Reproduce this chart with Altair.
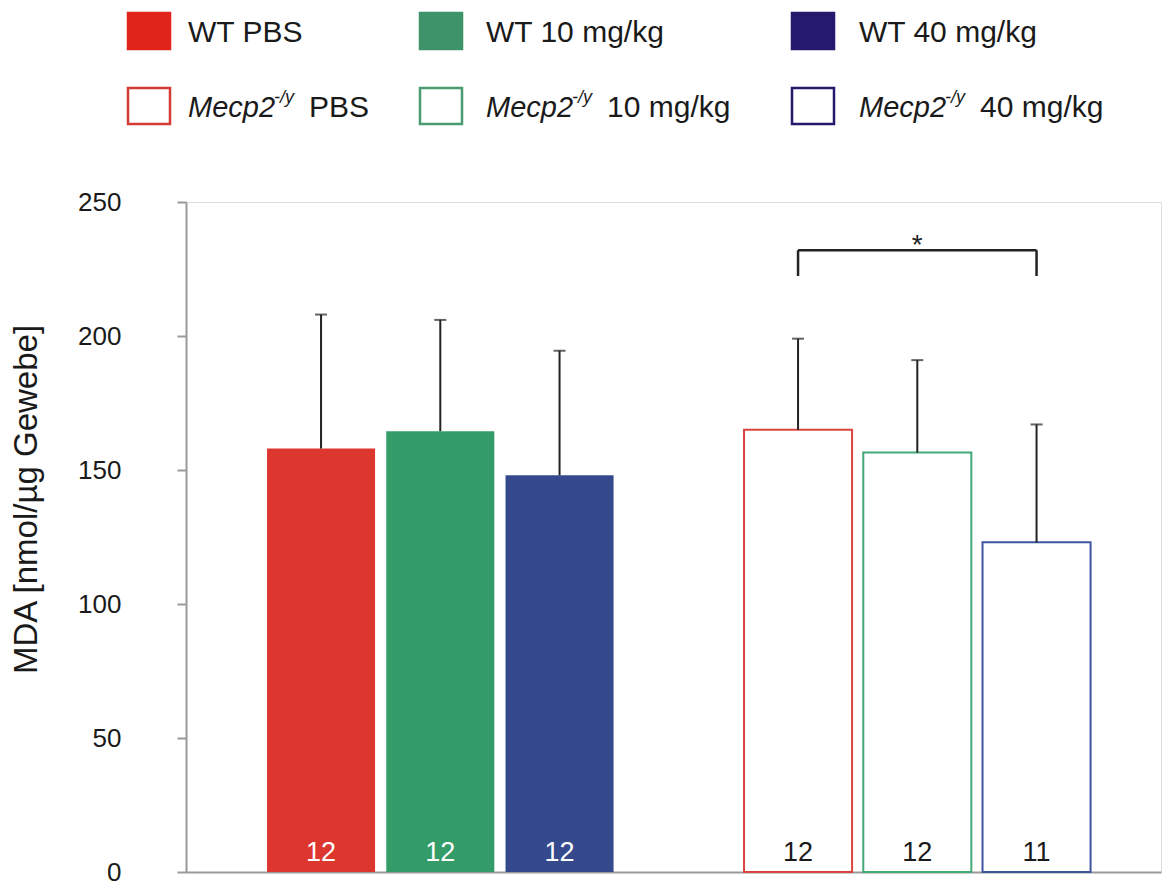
import altair as alt
import pandas as pd

# ---- data ----
groups = ["WT PBS", "WT 10 mg/kg", "WT 40 mg/kg",
          "Mecp2 PBS", "Mecp2 10 mg/kg", "Mecp2 40 mg/kg"]
means = [158, 164.5, 148, 165, 156.5, 123]
sds = [50, 41.5, 46.5, 34, 34.5, 44]
counts = [12, 12, 12, 12, 12, 11]
y_ticks = [0, 50, 100, 150, 200, 250]

# styles
fills = ["#dc362e", "#339c68", "#344a8c", "#ffffff", "#ffffff", "#ffffff"]
strokes = ["#dc362e", "#339c68", "#344a8c", "#d9453e", "#45a877", "#3c56a0"]
strokew = [0, 0, 0, 2, 2, 2]
count_colors = ["#ffffff", "#ffffff", "#ffffff", "#1a1a1a", "#1a1a1a", "#1a1a1a"]

# significance bracket
sig_left, sig_right, sig_mid = "Mecp2 PBS", "Mecp2 40 mg/kg", "Mecp2 10 mg/kg"
sig_top, sig_leg_bottom = 232, 222.4
sig_label_y = 230.6

# legend
leg_labels_wt = ["WT PBS", "WT 10 mg/kg", "WT 40 mg/kg"]
leg_labels_mut = ["PBS", "10 mg/kg", "40 mg/kg"]
leg_fill_wt = ["#e0241c", "#3f936a", "#24196c"]
leg_stroke_mut = ["#d23c35", "#4a9a72", "#24196c"]

domain = ["WT PBS", "WT 10 mg/kg", "WT 40 mg/kg", "gap",
          "Mecp2 PBS", "Mecp2 10 mg/kg", "Mecp2 40 mg/kg"]

df = pd.DataFrame({
    "group": groups, "mean": means, "sd": sds, "n": [str(c) for c in counts],
    "fill": fills, "stroke": strokes, "sw": strokew, "tc": count_colors,
})
df["upper"] = df["mean"] + df["sd"]

FONT = "Liberation Sans"
W, H = 975, 670

xs = alt.Scale(domain=domain, paddingInner=0.094, paddingOuter=0.635, align=0.535)
ys = alt.Scale(domain=[0, 250], nice=False)

x_enc = alt.X("group:N", scale=xs, sort=domain,
              axis=alt.Axis(labels=False, ticks=False, title=None,
                            domainColor="#9a9a9a", domainWidth=2))
y_axis = alt.Axis(values=y_ticks, title="MDA [nmol/µg Gewebe]", grid=False,
                  domainColor="#9a9a9a", domainWidth=2, tickColor="#9a9a9a",
                  tickWidth=2, tickSize=9, labelFontSize=26, labelPadding=56,
                  labelColor="#1a1a1a", labelFont=FONT, titleFont=FONT,
                  titleFontSize=33, titleFontWeight="normal", titleColor="#1a1a1a",
                  titleX=-143, titleY=297)

base = alt.Chart(df)

bars = base.mark_bar().encode(
    x=x_enc,
    y=alt.Y("mean:Q", scale=ys, axis=y_axis),
    fill=alt.Fill("fill:N", scale=None),
    stroke=alt.Stroke("stroke:N", scale=None),
    strokeWidth=alt.StrokeWidth("sw:Q", scale=None),
)

err = base.mark_rule(color="#222222", strokeWidth=2).encode(
    x=alt.X("group:N", scale=xs, sort=domain),
    y=alt.Y("mean:Q", scale=ys),
    y2="upper:Q",
)
caps = base.mark_tick(color="#222222", thickness=2, size=12).encode(
    x=alt.X("group:N", scale=xs, sort=domain),
    y=alt.Y("upper:Q", scale=ys),
)

nlab = base.mark_text(fontSize=27, font=FONT, baseline="alphabetic").encode(
    x=alt.X("group:N", scale=xs, sort=domain),
    y=alt.YValue(H - 11),
    text="n:N",
    color=alt.Color("tc:N", scale=None),
)

sig_df = pd.DataFrame({"a": [sig_left], "b": [sig_right], "y": [sig_top]})
legs_df = pd.DataFrame({"g": [sig_left, sig_right], "y1": [sig_leg_bottom] * 2,
                        "y2": [sig_top] * 2})
star_df = pd.DataFrame({"g": [sig_mid], "y": [sig_label_y], "t": ["*"]})

sig_h = alt.Chart(sig_df).mark_rule(color="#222222", strokeWidth=2.5).encode(
    x=alt.X("a:N", scale=xs), x2="b:N", y=alt.Y("y:Q", scale=ys))
sig_v = alt.Chart(legs_df).mark_rule(color="#222222", strokeWidth=2.5).encode(
    x=alt.X("g:N", scale=xs), y=alt.Y("y1:Q", scale=ys), y2="y2:Q")
star = alt.Chart(star_df).mark_text(fontSize=28, font=FONT, color="#222222",
                                    baseline="alphabetic").encode(
    x=alt.X("g:N", scale=xs), y=alt.Y("y:Q", scale=ys), text="t:N")

# legend layout (pixels relative to the plot area's top-left corner)
sw_left = [-58, 234, 606]
sw_w, sw_h = 42, 36
tx_x = [2, 300, 673]
row_c = [-171, -96]
sup_off, rest_off = 86, 121

leg_sq = pd.DataFrame({
    "x1": sw_left * 2,
    "x2": [v + sw_w for v in sw_left] * 2,
    "y1": [row_c[0] - sw_h / 2] * 3 + [row_c[1] - sw_h / 2] * 3,
    "y2": [row_c[0] + sw_h / 2] * 3 + [row_c[1] + sw_h / 2] * 3,
    "f": leg_fill_wt + ["#ffffff"] * 3,
    "s": leg_fill_wt + leg_stroke_mut,
})
leg_t1 = pd.DataFrame({"lx": tx_x, "ly": [row_c[0] + 11] * 3, "t": leg_labels_wt})
leg_it = pd.DataFrame({"lx": tx_x, "ly": [row_c[1] + 11] * 3, "t": ["Mecp2"] * 3})
leg_sup = pd.DataFrame({"lx": [v + sup_off for v in tx_x], "ly": [row_c[1] - 3] * 3,
                        "t": ["-/y"] * 3})
leg_rest = pd.DataFrame({"lx": [v + rest_off for v in tx_x], "ly": [row_c[1] + 11] * 3,
                         "t": leg_labels_mut})


def px(field):
    return alt.X(f"{field}:Q", scale=None, axis=None)


def py(field):
    return alt.Y(f"{field}:Q", scale=None, axis=None)


lsq = alt.Chart(leg_sq).mark_rect(strokeWidth=2.5).encode(
    x=px("x1"), x2="x2:Q", y=py("y1"), y2="y2:Q",
    fill=alt.Fill("f:N", scale=None), stroke=alt.Stroke("s:N", scale=None))
lt1 = alt.Chart(leg_t1).mark_text(fontSize=30, font=FONT, align="left",
                                  baseline="alphabetic", color="#1a1a1a").encode(
    x=px("lx"), y=py("ly"), text="t:N")
lit = alt.Chart(leg_it).mark_text(fontSize=29, font=FONT, fontStyle="italic",
                                  align="left", baseline="alphabetic",
                                  color="#1a1a1a").encode(
    x=px("lx"), y=py("ly"), text="t:N")
lsup = alt.Chart(leg_sup).mark_text(fontSize=18, font=FONT, fontStyle="italic",
                                    align="left", baseline="alphabetic",
                                    color="#1a1a1a").encode(
    x=px("lx"), y=py("ly"), text="t:N")
lrest = alt.Chart(leg_rest).mark_text(fontSize=30, font=FONT, align="left",
                                      baseline="alphabetic", color="#1a1a1a").encode(
    x=px("lx"), y=py("ly"), text="t:N")

chart = alt.layer(
    bars, err, caps, nlab, sig_h, sig_v, star, lsq, lt1, lit, lsup, lrest
).properties(
    width=W, height=H,
    autosize=alt.AutoSizeParams(type="none"),
    padding={"left": 178, "top": 194, "right": 5, "bottom": 12},
).configure_view(stroke=None).configure(font=FONT, background="white")

chart.save("out.html", embed_options={"renderer": "svg", "actions": False})
